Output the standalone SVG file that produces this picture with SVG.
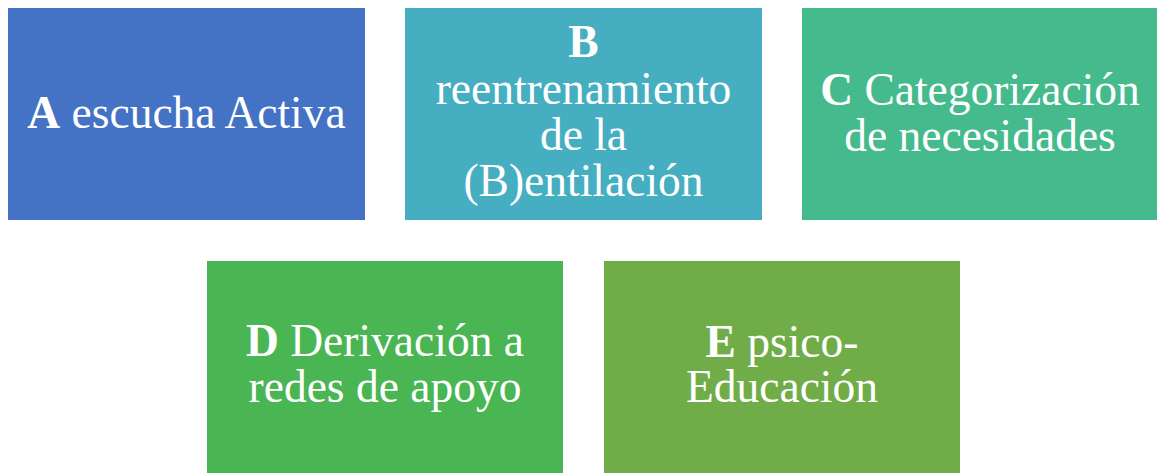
<svg xmlns="http://www.w3.org/2000/svg" width="1157" height="474" viewBox="0 0 1157 474">
<style>
text{font-family:"Liberation Serif","Times New Roman",serif;font-size:45.5px;fill:#ffffff;text-anchor:middle}
.b{font-weight:bold}
</style>
<rect width="1157" height="474" fill="#ffffff"/>
<g id="connectors"></g>
<g id="nodeA">
<rect x="8" y="8" width="357" height="212" fill="#4472C4"/>
<text x="186.5" y="128"><tspan class="b">A</tspan> escucha Activa</text>
</g>
<g id="nodeB">
<rect x="405" y="8" width="357" height="212" fill="#45AEC1"/>
<text x="583.5" y="57" class="b">B</text>
<text x="583.5" y="104">reentrenamiento</text>
<text x="583.5" y="150">de la</text>
<text x="583.5" y="196">(B)entilación</text>
</g>
<g id="nodeC">
<rect x="802" y="8" width="357" height="212" fill="#45BA8D"/>
<text x="980" y="105"><tspan class="b">C</tspan> Categorización</text>
<text x="980" y="151">de necesidades</text>
</g>
<g id="nodeD">
<rect x="207" y="261" width="356" height="212" fill="#4AB553"/>
<text x="385" y="356"><tspan class="b">D</tspan> Derivación a</text>
<text x="385" y="402">redes de apoyo</text>
</g>
<g id="nodeE">
<rect x="604" y="261" width="356" height="212" fill="#70AD48"/>
<text x="782" y="357"><tspan class="b">E</tspan> psico-</text>
<text x="782" y="402">Educación</text>
</g>
</svg>
